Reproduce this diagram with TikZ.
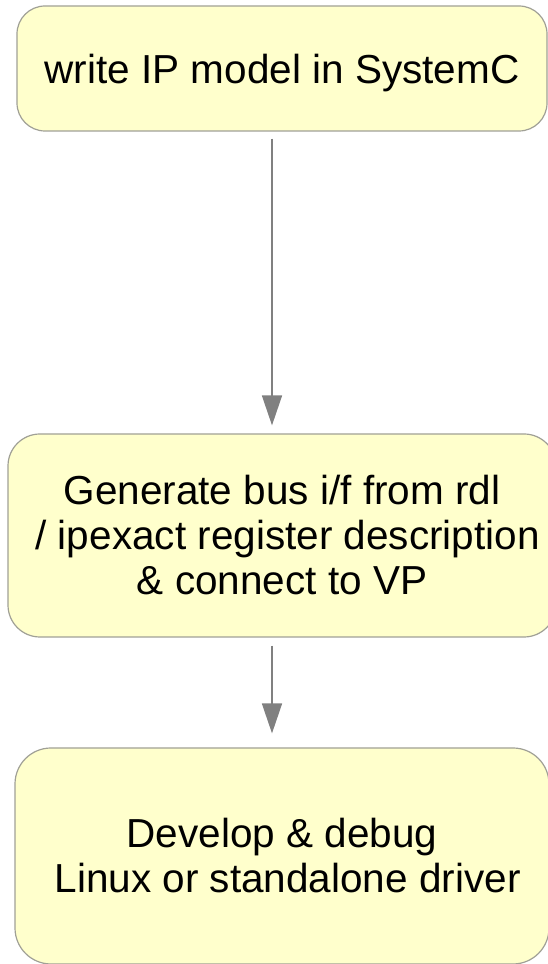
\documentclass[tikz,border=0pt]{standalone}
\usepackage{fontspec}
\setmainfont{Liberation Sans}
\usetikzlibrary{arrows.meta}
\definecolor{boxfill}{RGB}{255,255,204}
\definecolor{boxline}{RGB}{160,160,150}
\definecolor{arrowgrey}{RGB}{128,128,128}
\tikzset{
  stepbox/.style={draw=boxline, line width=1.2pt, fill=boxfill, rounded corners=28pt,
    align=center, inner sep=0pt, font=\fontsize{40.5}{45}\selectfont},
  conn/.style={draw=arrowgrey, line width=1.6pt,
    -{Triangle[width=20pt,length=30pt,fill=arrowgrey]}}
}
\begin{document}
\begin{tikzpicture}[x=1pt,y=1pt]
  \useasboundingbox (0,0) rectangle (548,964);
  \clip (0,0) rectangle (548,964);
  % process steps
  \node[stepbox, minimum width=530pt, minimum height=125pt] (b1) at (282,895.5) {};
  \node (t1) at (282,891) [font=\fontsize{40.5}{45}\selectfont, inner sep=0pt] {write IP model in SystemC};
  \node[stepbox, minimum width=548pt, minimum height=203pt, rounded corners=32pt] (b2) at (282,428.5)
    {Generate bus i/f from rdl\\\ / ipexact register description\\ \& connect to VP};
  \node[stepbox, minimum width=534pt, minimum height=216pt, rounded corners=36pt] (b3) at (282,108)
    {Develop \& debug\\\ Linux or standalone driver};
  % flow connectors
  \draw[conn, shorten <=7pt, shorten >=8pt] ([xshift=-10pt]b1.south) -- ([xshift=-10pt]b2.north);
  \draw[conn, shorten <=8pt, shorten >=14pt] ([xshift=-10pt]b2.south) -- ([xshift=-10pt]b3.north);
\end{tikzpicture}
\end{document}
